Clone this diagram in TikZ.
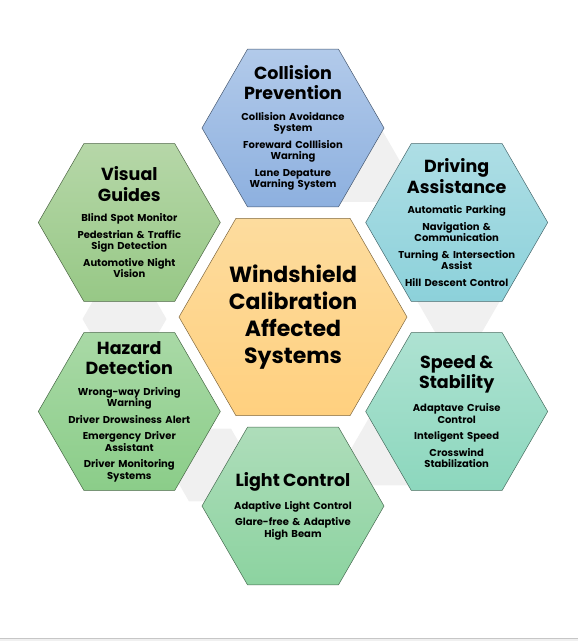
\documentclass[tikz,border=0pt]{standalone}
\usepackage{fontspec}
\setmainfont{Poppins}
\usetikzlibrary{shapes.geometric, positioning}

\setlength{\parindent}{0pt}
\setlength{\parskip}{0pt}

\definecolor{linkgray}{HTML}{F0F0F0}
\definecolor{coretop}{HTML}{FDDC9E}
\definecolor{corebot}{HTML}{FFD07F}
\definecolor{colltop}{HTML}{B2CAEA}
\definecolor{collbot}{HTML}{8DB0DF}
\definecolor{drivtop}{HTML}{AEDEE5}
\definecolor{drivbot}{HTML}{8CD1DA}
\definecolor{speedtop}{HTML}{AEE2D2}
\definecolor{speedbot}{HTML}{8CD7BD}
\definecolor{lighttop}{HTML}{AEDDBA}
\definecolor{lightbot}{HTML}{8CD3A0}
\definecolor{haztop}{HTML}{A9D9A6}
\definecolor{hazbot}{HTML}{8BCD89}
\definecolor{vistop}{HTML}{B6D7A8}
\definecolor{visbot}{HTML}{97C886}

\newcommand{\hexhead}[1]{{\fontsize{17.5}{20.5}\selectfont #1\par}\vspace{4pt}}
\newcommand{\hexitem}[1]{\vspace{5pt}#1\par}

\begin{document}
\begin{tikzpicture}
    [
        x=1pt, y=-1pt,
        hexa/.style = {
            regular polygon, regular polygon sides=6,
            minimum size=182pt, inner sep=0pt, outer sep=0pt,
            draw=#1bot!50!black, line width=0.5pt,
            top color=#1top, bottom color=#1bot
        },
        corehex/.style = {
            regular polygon, regular polygon sides=6,
            minimum size=228pt, inner sep=0pt, outer sep=0pt,
            draw=corebot!50!black, line width=0.5pt,
            top color=coretop, bottom color=corebot
        },
        linkhex/.style = {
            regular polygon, regular polygon sides=6,
            minimum size=84pt, inner sep=0pt, outer sep=0pt,
            fill=linkgray
        },
        hextext/.style = {
            text width=140pt, align=center, inner sep=0pt,
            font=\fontsize{10}{11.5}\selectfont\bfseries
        },
    ]
    \useasboundingbox (0,0) rectangle (578,641);
    %\draw[help lines] (0,0) grid (578,641);

    % gray links behind
    \node[linkhex] (link1) at (360.5,165.5) {};
    \node[linkhex] (link2) at (458.5,300) {};
    \node[linkhex] (link3) at (393,449) {};
    \node[linkhex] (link4) at (210,465) {};
    \node[linkhex] (link5) at (124.5,319) {};

    % hexagons
    \node[corehex] (core) at (293,317) {};
    \node[hexa=coll]  (coll)  at (293,128) {};
    \node[hexa=driv]  (driv)  at (456.7,222.5) {};
    \node[hexa=speed] (speed) at (456.7,411.5) {};
    \node[hexa=light] (light) at (293,506) {};
    \node[hexa=haz]   (haz)   at (129.3,411.5) {};
    \node[hexa=vis]   (vis)   at (129.3,222.5) {};

    % texts
    \node[hextext, font=\fontsize{22}{27}\selectfont\bfseries] (coretext) at (core)
        {Windshield\\Calibration\\Affected\\Systems};
    \node[hextext] (colltext) at (coll) {
        \hexhead{Collision\\Prevention}
        \hexitem{Collision Avoidance\\System}
        \hexitem{Foreward Colllision\\Warning}
        \hexitem{Lane Depature\\Warning System}};
    \node[hextext] (drivtext) at (driv) {
        \hexhead{Driving\\Assistance}
        \hexitem{Automatic Parking}
        \hexitem{Navigation \&\\Communication}
        \hexitem{Turning \& Intersection\\Assist}
        \hexitem{Hill Descent Control}};
    \node[hextext] (speedtext) at (speed) {
        \hexhead{Speed \&\\Stability}
        \hexitem{Adaptave Cruise\\Control}
        \hexitem{Inteligent Speed}
        \hexitem{Crosswind\\Stabilization}};
    \node[hextext] (lighttext) at (light) {
        \hexhead{Light Control}
        \hexitem{Adaptive Light Control}
        \hexitem{Glare-free \& Adaptive\\High Beam}};
    \node[hextext] (haztext) at (haz) {
        \hexhead{Hazard\\Detection}
        \hexitem{Wrong-way Driving\\Warning}
        \hexitem{Driver Drowsiness Alert}
        \hexitem{Emergency Driver\\Assistant}
        \hexitem{Driver Monitoring\\Systems}};
    \node[hextext] (vistext) at (vis) {
        \hexhead{Visual\\Guides}
        \hexitem{Blind Spot Monitor}
        \hexitem{Pedestrian \& Traffic\\Sign Detection}
        \hexitem{Automotive Night\\Vision}};

    % bottom edge of the frame
    \fill[gray!12] (0,638) rectangle (578,641);
    \draw[gray!45, line width=0.8pt] (0,638) -- (578,638);
\end{tikzpicture}
\end{document}
